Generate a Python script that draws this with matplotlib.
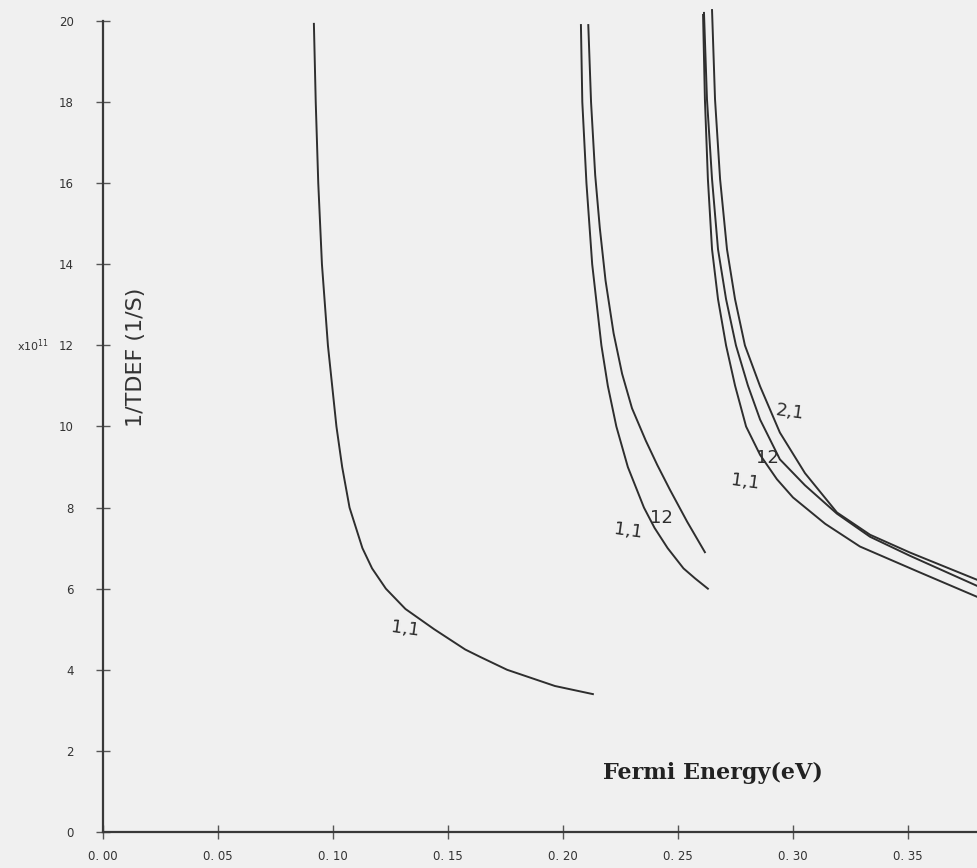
import matplotlib.pyplot as plt

# curve data (x in eV, y in units of 1e11 1/s)
x_a11 = [0.0917, 0.0925, 0.0936, 0.0952, 0.0978, 0.1015, 0.1040, 0.1072, 0.1128, 0.1170,
         0.1230, 0.1315, 0.1440, 0.1575, 0.1639, 0.1757, 0.1965, 0.2130]
y_a11 = [19.93, 18.0, 16.0, 14.0, 12.0, 10.0, 9.0, 8.0, 7.0, 6.5,
         6.0, 5.5, 5.0, 4.5, 4.32, 4.0, 3.6, 3.4]

x_b11 = [0.2078, 0.2084, 0.2102, 0.2127, 0.2167, 0.2195, 0.2232, 0.2282, 0.2352, 0.2398,
         0.2455, 0.2524, 0.2575, 0.2630]
y_b11 = [19.9, 18.0, 16.0, 14.0, 12.0, 11.0, 10.0, 9.0, 8.0, 7.5,
         7.0, 6.5, 6.25, 6.0]

x_b12 = [0.2110, 0.2122, 0.2140, 0.2160, 0.2185, 0.2220, 0.2257, 0.2300, 0.2360, 0.2410,
         0.2465, 0.2540, 0.2617]
y_b12 = [19.9, 18.0, 16.2, 14.9, 13.6, 12.3, 11.3, 10.45, 9.65, 9.05,
         8.44, 7.65, 6.9]

x_c11 = [0.2609, 0.2617, 0.2630, 0.2648, 0.2674, 0.2709, 0.2748, 0.2796, 0.2857, 0.2930,
         0.3000, 0.3140, 0.3291, 0.3552, 0.3800]
y_c11 = [20.15, 18.07, 16.1, 14.37, 13.14, 12.0, 11.01, 10.0, 9.3, 8.7,
         8.25, 7.6, 7.04, 6.4, 5.8]

x_c12 = [0.2613, 0.2626, 0.2648, 0.2674, 0.2709, 0.2752, 0.2804, 0.2857, 0.2943, 0.3052,
         0.3191, 0.3335, 0.3509, 0.3800]
y_c12 = [20.2, 18.07, 16.1, 14.37, 13.14, 12.0, 11.01, 10.17, 9.19, 8.55,
         7.85, 7.28, 6.81, 6.07]

x_c21 = [0.2648, 0.2661, 0.2683, 0.2713, 0.2748, 0.2791, 0.2857, 0.2943, 0.3052, 0.3191,
         0.3335, 0.3509, 0.3800]
y_c21 = [20.27, 18.07, 16.1, 14.37, 13.14, 12.0, 10.99, 9.85, 8.85, 7.88,
         7.33, 6.89, 6.22]

x_ticks = [0.00, 0.05, 0.10, 0.15, 0.20, 0.25, 0.30, 0.35]
x_labels = ['0. 00', '0. 05', '0. 10', '0. 15', '0. 20', '0. 25', '0. 30', '0. 35']
y_ticks = [0, 2, 4, 6, 8, 10, 12, 14, 16, 18, 20]

bg = '#f0f0f0'
ink = '#2e2e2e'

fig = plt.figure(figsize=(9.77, 8.68), dpi=100, facecolor=bg)
ax = fig.add_axes([0.1054, 0.0415, 0.8946, 0.9343], facecolor=bg)

for xs, ys in [(x_a11, y_a11), (x_b11, y_b11), (x_b12, y_b12),
               (x_c11, y_c11), (x_c12, y_c12), (x_c21, y_c21)]:
    ax.plot(xs, ys, color=ink, lw=1.4, clip_on=False, solid_joinstyle='round')

ax.set_xlim(0, 0.38)
ax.set_ylim(0, 20)

for s in ['top', 'right']:
    ax.spines[s].set_visible(False)
for s in ['left', 'bottom']:
    ax.spines[s].set_color('#383838')
    ax.spines[s].set_linewidth(1.6)

ax.set_xticks(x_ticks)
ax.set_xticklabels(x_labels)
ax.set_yticks(y_ticks)
ax.tick_params(axis='both', direction='inout', length=10, width=1, color='#555555',
               labelsize=8.5, labelcolor='#333333')
ax.tick_params(axis='y', pad=16)
ax.tick_params(axis='x', pad=8)

# curve labels
lab = dict(fontsize=13, color=ink, ha='center', va='center')
ax.text(0.1313, 5.0, '1,1', rotation=-8, **lab)
ax.text(0.2283, 7.41, '1,1', rotation=-8, **lab)
ax.text(0.2430, 7.75, '12', **lab)
ax.text(0.2791, 8.64, '1,1', rotation=-8, **lab)
ax.text(0.2887, 9.23, '12', **lab)
ax.text(0.2987, 10.35, '2,1', rotation=-8, **lab)

ax.text(0.265, 1.45, 'Fermi Energy(eV)', fontsize=16, fontweight='bold',
        family='DejaVu Serif', color='#222222', ha='center', va='center')
ax.text(0.0145, 11.7, '1/TDEF (1/S)', fontsize=16, color='#333333',
        rotation=90, ha='center', va='center')
ax.text(-0.0375, 12.0, r'x10$^{11}$', fontsize=8, color='#333333',
        ha='left', va='center')

fig.savefig('out.png', dpi=100, facecolor=bg)
